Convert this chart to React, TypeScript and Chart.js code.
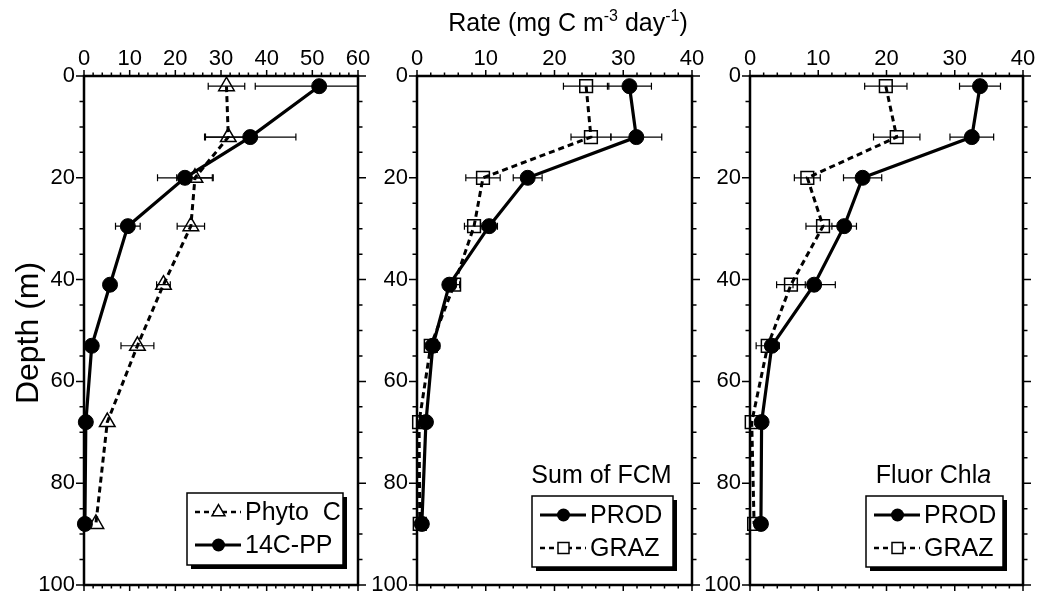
import React, { useEffect, useRef } from "react";
import { Chart, registerables } from "chart.js";

Chart.register(...registerables);

// ---------- data ----------
const DEPTHS = [2, 12, 20, 29.5, 41, 53, 68, 88];

// Panel 1
const PHYTO_C = [31.2, 31.6, 24.3, 23.4, 17.4, 11.7, 5.1, 2.6];
const PHYTO_C_ERR = [4, 5, 4, 3, 1.5, 3.6, 0, 0];
const PP_14C = [51.5, 36.4, 22.1, 9.6, 5.7, 1.7, 0.4, 0.2];
const PP_14C_ERR = [14, 10, 6, 2.7, 1, 0, 0, 0];

// Panel 2 (Sum of FCM)
const FCM_PROD = [30.9, 31.9, 16.1, 10.5, 4.7, 2.3, 1.3, 0.7];
const FCM_PROD_ERR = [3.2, 3.7, 2.1, 1.2, 0.5, 1, 0, 0];
const FCM_GRAZ = [24.6, 25.3, 9.6, 8.3, 5.4, 2.0, 0.3, 0.4];
const FCM_GRAZ_ERR = [3.3, 2.9, 2.5, 1.4, 0.8, 0.5, 0, 0];

// Panel 3 (Fluor Chl a)
const CHL_PROD = [33.7, 32.5, 16.5, 13.8, 9.4, 3.2, 1.7, 1.6];
const CHL_PROD_ERR = [3, 3.2, 2.8, 1.8, 3.1, 0, 0, 0];
const CHL_GRAZ = [19.9, 21.5, 8.4, 10.7, 6.0, 2.6, 0.25, 0.6];
const CHL_GRAZ_ERR = [3.1, 3.4, 1.9, 2.5, 2.1, 1.7, 0, 0];

const DEPTH_MAX = 100;
const RATE_MAX_PANEL1 = 60;
const RATE_MAX_PANEL23 = 40;

const FONT = '"Liberation Sans", Arial, Helvetica, sans-serif';
Chart.defaults.font.family = FONT;

const toPoints = (xs: number[]) => xs.map((x, i) => ({ x, y: DEPTHS[i] }));

// ---------- styles ----------
const solidCircle = {
  pointStyle: "circle",
  pointRadius: 7.5,
  pointBackgroundColor: "#000",
  pointBorderColor: "#000",
  pointBorderWidth: 1,
  borderColor: "#000",
  borderWidth: 3.2,
  showLine: true,
  tension: 0,
  clip: 12,
};
const dashedTriangle = {
  pointStyle: "triangle",
  pointRadius: 9,
  pointBackgroundColor: "rgba(0,0,0,0)",
  pointBorderColor: "#000",
  pointBorderWidth: 1.5,
  borderColor: "#000",
  borderWidth: 3,
  borderDash: [6, 4],
  showLine: true,
  tension: 0,
  clip: 12,
};
const dashedSquare = {
  pointStyle: "rect",
  pointRadius: 9,
  pointBackgroundColor: "rgba(0,0,0,0)",
  pointBorderColor: "#000",
  pointBorderWidth: 1.5,
  borderColor: "#000",
  borderWidth: 3,
  borderDash: [6, 4],
  showLine: true,
  tension: 0,
  clip: 12,
};

// ---------- plugins ----------
const errorBarPlugin = {
  id: "errorBars",
  beforeDatasetsDraw(chart: any) {
    const { ctx, chartArea, scales } = chart;
    const x = scales.x;
    const y = scales.y;
    ctx.save();
    ctx.beginPath();
    ctx.rect(chartArea.left, chartArea.top - 10, chartArea.right - chartArea.left, chartArea.bottom - chartArea.top + 20);
    ctx.clip();
    ctx.strokeStyle = "#000";
    ctx.lineWidth = 1.2;
    ctx.setLineDash([]);
    chart.data.datasets.forEach((ds: any) => {
      const errs: number[] | undefined = ds.errors;
      if (!errs) return;
      ds.data.forEach((pt: any, i: number) => {
        const e = errs[i];
        if (!e) return;
        const yp = y.getPixelForValue(pt.y);
        const x0 = x.getPixelForValue(pt.x - e);
        const x1 = x.getPixelForValue(pt.x + e);
        ctx.beginPath();
        ctx.moveTo(x0, yp);
        ctx.lineTo(x1, yp);
        ctx.moveTo(x0, yp - 3.5);
        ctx.lineTo(x0, yp + 3.5);
        ctx.moveTo(x1, yp - 3.5);
        ctx.lineTo(x1, yp + 3.5);
        ctx.stroke();
      });
    });
    ctx.restore();
  },
};

const frameTicksPlugin = {
  id: "frameTicks",
  afterDatasetsDraw(chart: any, _args: any, opts: any) {
    const { ctx, chartArea, scales } = chart;
    const { left, right, top, bottom } = chartArea;
    const x = scales.x;
    const y = scales.y;
    ctx.save();
    ctx.strokeStyle = "#000";
    ctx.setLineDash([]);
    ctx.lineWidth = 1.5;
    ctx.beginPath();
    for (let v = x.min; v <= x.max + 1e-9; v += opts.xMinor) {
      const px = x.getPixelForValue(v);
      const major = Math.abs(v % opts.xMajor) < 1e-6;
      const len = major ? 6 : 3.5;
      ctx.moveTo(px, top);
      ctx.lineTo(px, top - len);
      ctx.moveTo(px, bottom);
      ctx.lineTo(px, bottom + len);
    }
    for (let v = y.min; v <= y.max + 1e-9; v += opts.yMinor) {
      const py = y.getPixelForValue(v);
      const major = Math.abs(v % opts.yMajor) < 1e-6;
      const len = major ? 8 : 4.5;
      ctx.moveTo(left, py);
      ctx.lineTo(left - len, py);
      ctx.moveTo(right, py);
      ctx.lineTo(right + len, py);
    }
    ctx.stroke();
    ctx.lineWidth = 2.5;
    ctx.strokeRect(left, top, right - left, bottom - top);
    ctx.restore();
  },
};

function drawMarker(ctx: CanvasRenderingContext2D, kind: string, cx: number, cy: number) {
  ctx.setLineDash([]);
  ctx.beginPath();
  if (kind === "circle") {
    ctx.arc(cx, cy, 6.5, 0, Math.PI * 2);
    ctx.fillStyle = "#000";
    ctx.fill();
  } else if (kind === "triangle") {
    const r = 7.5;
    ctx.moveTo(cx, cy - r);
    ctx.lineTo(cx + r * 0.866, cy + r / 2);
    ctx.lineTo(cx - r * 0.866, cy + r / 2);
    ctx.closePath();
    ctx.fillStyle = "#fff";
    ctx.fill();
    ctx.lineWidth = 1.5;
    ctx.stroke();
  } else {
    const s = 5.5;
    ctx.rect(cx - s, cy - s, 2 * s, 2 * s);
    ctx.fillStyle = "#fff";
    ctx.fill();
    ctx.lineWidth = 1.5;
    ctx.stroke();
  }
}

const boxLegendPlugin = {
  id: "boxLegend",
  afterDraw(chart: any, _args: any, opts: any) {
    if (!opts || !opts.items) return;
    const { ctx, chartArea } = chart;
    const bx = chartArea.right - opts.right - opts.width;
    const by = chartArea.bottom - opts.bottom - opts.height;
    const w = opts.width;
    const h = opts.height;
    ctx.save();
    // shadow
    ctx.fillStyle = "#000";
    ctx.fillRect(bx + 4, by + 4, w, h);
    ctx.fillStyle = "#fff";
    ctx.fillRect(bx, by, w, h);
    ctx.strokeStyle = "#000";
    ctx.lineWidth = 1.5;
    ctx.strokeRect(bx, by, w, h);

    ctx.font = `25px ${FONT}`;
    ctx.textBaseline = "middle";
    ctx.fillStyle = "#000";
    opts.items.forEach((it: any, i: number) => {
      const cy = by + 19 + i * 33;
      ctx.strokeStyle = "#000";
      ctx.lineWidth = it.dashed ? 2.5 : 3;
      ctx.setLineDash(it.dashed ? [5, 4] : []);
      ctx.beginPath();
      ctx.moveTo(bx + 8, cy);
      ctx.lineTo(bx + 54, cy);
      ctx.stroke();
      drawMarker(ctx, it.kind, bx + 31.5, cy);
      ctx.fillStyle = "#000";
      ctx.textAlign = "left";
      ctx.fillText(it.label, bx + 58, cy + 1);
    });

    if (opts.title) {
      const cx = bx + w / 2 - 1;
      const ty = by - 20;
      ctx.textBaseline = "middle";
      ctx.font = `25px ${FONT}`;
      const w1 = ctx.measureText(opts.title).width;
      let w2 = 0;
      if (opts.titleItalic) {
        ctx.font = `italic 25px ${FONT}`;
        w2 = ctx.measureText(opts.titleItalic).width;
      }
      const start = cx - (w1 + w2) / 2;
      ctx.textAlign = "left";
      ctx.font = `25px ${FONT}`;
      ctx.fillText(opts.title, start, ty);
      if (opts.titleItalic) {
        ctx.font = `italic 25px ${FONT}`;
        ctx.fillText(opts.titleItalic, start + w1, ty);
      }
    }
    ctx.restore();
  },
};

// ---------- panel ----------
type PanelProps = {
  left: number;
  width: number;
  yAxisWidth: number;
  rightPad: number;
  xMax: number;
  datasets: any[];
  legend: any;
};

function Panel({ left, width, yAxisWidth, rightPad, xMax, datasets, legend }: PanelProps) {
  const ref = useRef<HTMLCanvasElement>(null);
  useEffect(() => {
    if (!ref.current) return;
    const chart = new Chart(ref.current, {
      type: "scatter",
      data: { datasets },
      options: {
        animation: false,
        responsive: false,
        events: [],
        layout: { padding: { left: 0, right: rightPad, top: 0, bottom: 15 } },
        scales: {
          x: {
            type: "linear",
            position: "top",
            min: 0,
            max: xMax,
            ticks: { stepSize: 10, padding: 4, color: "#000", font: { size: 22, family: FONT } },
            grid: { display: false, drawTicks: false },
            border: { display: false },
            afterFit(s: any) {
              s.height = 76;
              s.paddingLeft = 0;
              s.paddingRight = 0;
            },
          },
          y: {
            type: "linear",
            position: "left",
            min: 0,
            max: DEPTH_MAX,
            reverse: true,
            ticks: { stepSize: 20, padding: 9, color: "#000", font: { size: 22, family: FONT } },
            grid: { display: false, drawTicks: false },
            border: { display: false },
            afterFit(s: any) {
              s.width = yAxisWidth;
              s.paddingTop = 0;
              s.paddingBottom = 0;
            },
          },
        },
        plugins: {
          legend: { display: false },
          tooltip: { enabled: false },
          frameTicks: { xMinor: 2, xMajor: 10, yMinor: 5, yMajor: 20 },
          boxLegend: legend,
        } as any,
      } as any,
      plugins: [errorBarPlugin, frameTicksPlugin, boxLegendPlugin],
    } as any);
    return () => chart.destroy();
  }, []);
  return (
    <canvas
      ref={ref}
      width={width}
      height={600}
      style={{ position: "absolute", left, top: 0, width, height: 600 }}
    />
  );
}

export default function App() {
  const panel1 = [
    { label: "14C-PP", data: toPoints(PP_14C), errors: PP_14C_ERR, ...solidCircle },
    { label: "Phyto C", data: toPoints(PHYTO_C), errors: PHYTO_C_ERR, ...dashedTriangle },
  ];
  const panel2 = [
    { label: "PROD", data: toPoints(FCM_PROD), errors: FCM_PROD_ERR, ...solidCircle },
    { label: "GRAZ", data: toPoints(FCM_GRAZ), errors: FCM_GRAZ_ERR, ...dashedSquare },
  ];
  const panel3 = [
    { label: "PROD", data: toPoints(CHL_PROD), errors: CHL_PROD_ERR, ...solidCircle },
    { label: "GRAZ", data: toPoints(CHL_GRAZ), errors: CHL_GRAZ_ERR, ...dashedSquare },
  ];

  return (
    <div
      style={{
        position: "absolute",
        left: 0,
        top: 0,
        width: 1038,
        height: 600,
        background: "#fff",
        fontFamily: FONT,
        color: "#000",
      }}
    >
      <Panel
        left={0}
        width={380}
        yAxisWidth={84}
        rightPad={22}
        xMax={RATE_MAX_PANEL1}
        datasets={panel1}
        legend={{
          right: 15,
          bottom: 20,
          width: 156,
          height: 72,
          items: [
            { label: "Phyto  C", kind: "triangle", dashed: true },
            { label: "14C-PP", kind: "circle", dashed: false },
          ],
        }}
      />
      <Panel
        left={360}
        width={355}
        yAxisWidth={57}
        rightPad={23}
        xMax={RATE_MAX_PANEL23}
        datasets={panel2}
        legend={{
          right: 19,
          bottom: 18,
          width: 141,
          height: 71,
          title: "Sum of FCM",
          items: [
            { label: "PROD", kind: "circle", dashed: false },
            { label: "GRAZ", kind: "square", dashed: true },
          ],
        }}
      />
      <Panel
        left={695}
        width={343}
        yAxisWidth={55}
        rightPad={15}
        xMax={RATE_MAX_PANEL23}
        datasets={panel3}
        legend={{
          right: 20,
          bottom: 18,
          width: 137,
          height: 71,
          title: "Fluor Chl",
          titleItalic: "a",
          items: [
            { label: "PROD", kind: "circle", dashed: false },
            { label: "GRAZ", kind: "square", dashed: true },
          ],
        }}
      />
      <div
        style={{
          position: "absolute",
          left: 368,
          width: 400,
          top: 8,
          lineHeight: "28px",
          fontSize: 25,
          textAlign: "center",
          whiteSpace: "nowrap",
        }}
      >
        Rate (mg C m
        <span style={{ fontSize: 16, position: "relative", top: -10 }}>-3</span> day
        <span style={{ fontSize: 16, position: "relative", top: -10 }}>-1</span>)
      </div>
      <div
        style={{
          position: "absolute",
          left: 27 - 100,
          top: 333 - 18,
          width: 200,
          height: 36,
          lineHeight: "36px",
          fontSize: 32,
          textAlign: "center",
          transform: "rotate(-90deg)",
          whiteSpace: "nowrap",
        }}
      >
        Depth (m)
      </div>
    </div>
  );
}
